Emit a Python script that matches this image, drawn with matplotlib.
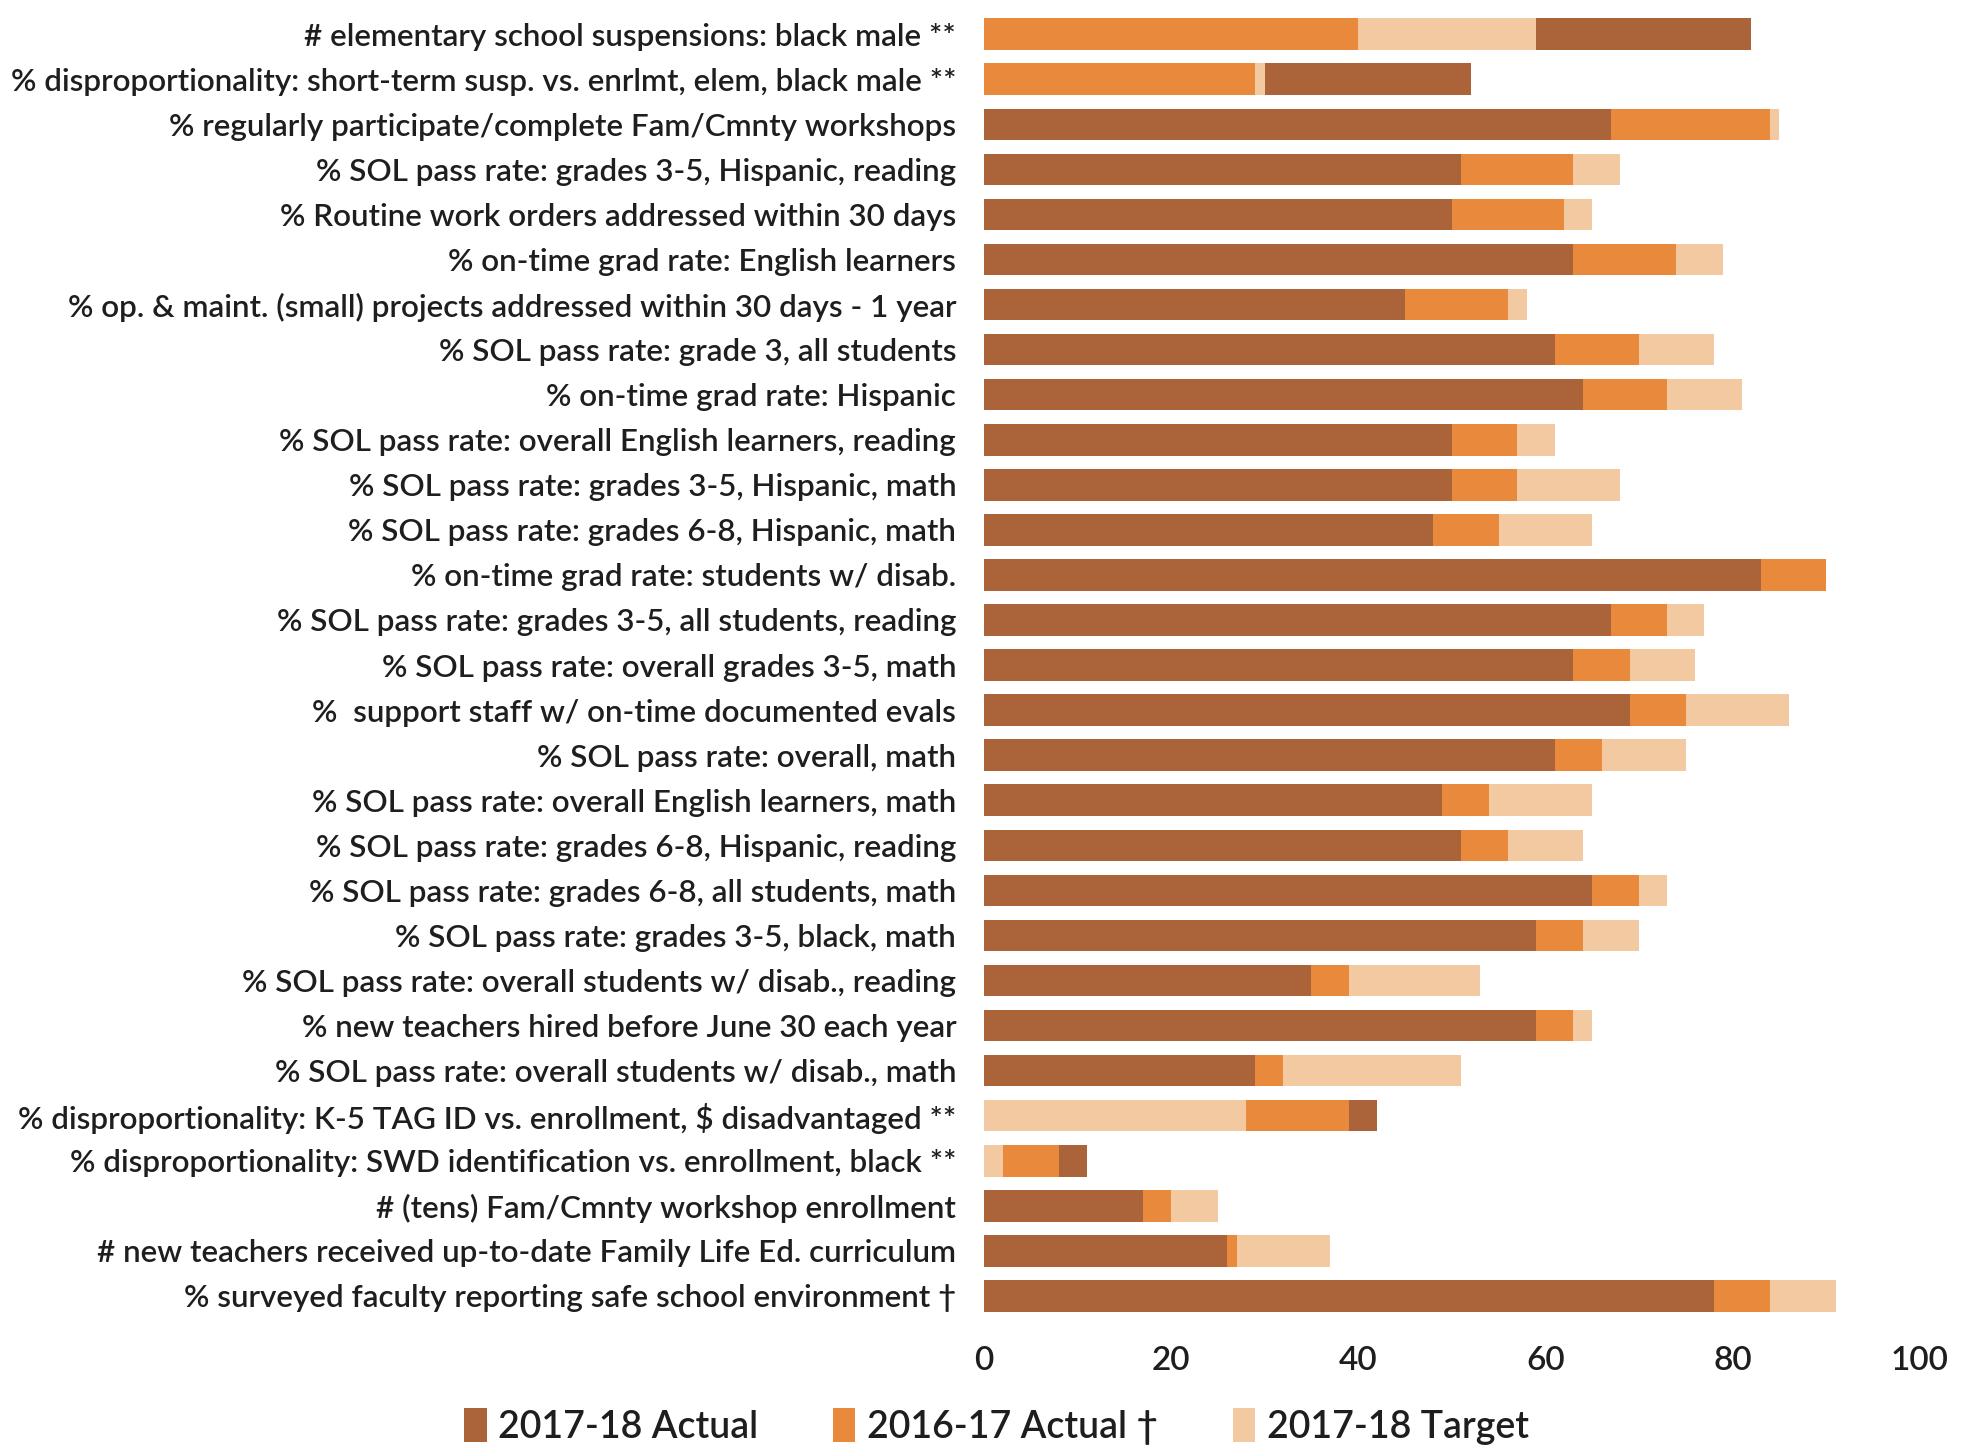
import matplotlib.pyplot as plt
from matplotlib.patches import Patch

# Indicadores (de arriba hacia abajo)
labels = [
    '# elementary school suspensions: black male **',
    '% disproportionality: short-term susp. vs. enrlmt, elem, black male **',
    '% regularly participate/complete Fam/Cmnty workshops',
    '% SOL pass rate: grades 3-5, Hispanic, reading',
    '% Routine work orders addressed within 30 days',
    '% on-time grad rate: English learners',
    '% op. & maint. (small) projects addressed within 30 days - 1 year',
    '% SOL pass rate: grade 3, all students',
    '% on-time grad rate: Hispanic',
    '% SOL pass rate: overall English learners, reading',
    '% SOL pass rate: grades 3-5, Hispanic, math',
    '% SOL pass rate: grades 6-8, Hispanic, math',
    '% on-time grad rate: students w/ disab.',
    '% SOL pass rate: grades 3-5, all students, reading',
    '% SOL pass rate: overall grades 3-5, math',
    '%  support staff w/ on-time documented evals',
    '% SOL pass rate: overall, math',
    '% SOL pass rate: overall English learners, math',
    '% SOL pass rate: grades 6-8, Hispanic, reading',
    '% SOL pass rate: grades 6-8, all students, math',
    '% SOL pass rate: grades 3-5, black, math',
    '% SOL pass rate: overall students w/ disab., reading',
    '% new teachers hired before June 30 each year',
    '% SOL pass rate: overall students w/ disab., math',
    '% disproportionality: K-5 TAG ID vs. enrollment, $ disadvantaged **',
    '% disproportionality: SWD identification vs. enrollment, black **',
    '# (tens) Fam/Cmnty workshop enrollment',
    '# new teachers received up-to-date Family Life Ed. curriculum',
    '% surveyed faculty reporting safe school environment \u2020',
]

actual_1718 = [82, 52, 67, 51, 50, 63, 45, 61, 64, 50, 50, 48, 83, 67, 63,
               69, 61, 49, 51, 65, 59, 35, 59, 29, 42, 11, 17, 26, 78]
actual_1617 = [40, 29, 84, 63, 62, 74, 56, 70, 73, 57, 57, 55, 90, 73, 69,
               75, 66, 54, 56, 70, 64, 39, 63, 32, 39, 8, 20, 27, 84]
target_1718 = [59, 30, 85, 68, 65, 79, 58, 78, 81, 61, 68, 65, 90, 77, 76,
               86, 75, 65, 64, 73, 70, 53, 65, 51, 28, 2, 25, 37, 91]

series = [
    ('2017-18 Actual', actual_1718, '#AB6439'),
    ('2016-17 Actual \u2020', actual_1617, '#E8893B'),
    ('2017-18 Target', target_1718, '#F3C9A1'),
]

plt.rcParams['font.family'] = ['Lato', 'DejaVu Sans']
text_color = '#1e1e1e'

fig = plt.figure(figsize=(19.73, 14.51), dpi=100)
ax = fig.add_axes([0.4987, 0.0913, 0.4743, 0.9007])

# Barras superpuestas: la más larga al fondo, la más corta al frente
for i in range(len(labels)):
    row = sorted([(vals[i], color) for _, vals, color in series], reverse=True)
    for z, (v, color) in enumerate(row):
        ax.barh(i, v, height=0.7, color=color, zorder=z + 1, linewidth=0)

ax.set_yticks(range(len(labels)))
ax.set_yticklabels(labels, fontsize=22.6, color=text_color, fontweight='semibold')
ax.set_ylim(len(labels) - 0.5, -0.5)
ax.set_xlim(0, 100)
ax.set_xticks([0, 20, 40, 60, 80, 100])
ax.tick_params(axis='y', length=0, pad=20)
ax.tick_params(axis='x', length=0, pad=20, labelsize=24, labelcolor=text_color)
for t in ax.get_xticklabels():
    t.set_fontweight('semibold')
for s in ax.spines.values():
    s.set_visible(False)

handles = [Patch(facecolor=c, label=n) for n, _, c in series]
fig.legend(handles=handles, loc='center', bbox_to_anchor=(0.505, 0.017),
           ncol=3, frameon=False, handlelength=0.6,
           handleheight=1.0, handletextpad=0.3, columnspacing=2.0,
           labelcolor=text_color,
           prop={'size': 27, 'weight': 'semibold', 'family': ['Lato', 'DejaVu Sans']})

fig.savefig('out.png', dpi=100, facecolor='white')
